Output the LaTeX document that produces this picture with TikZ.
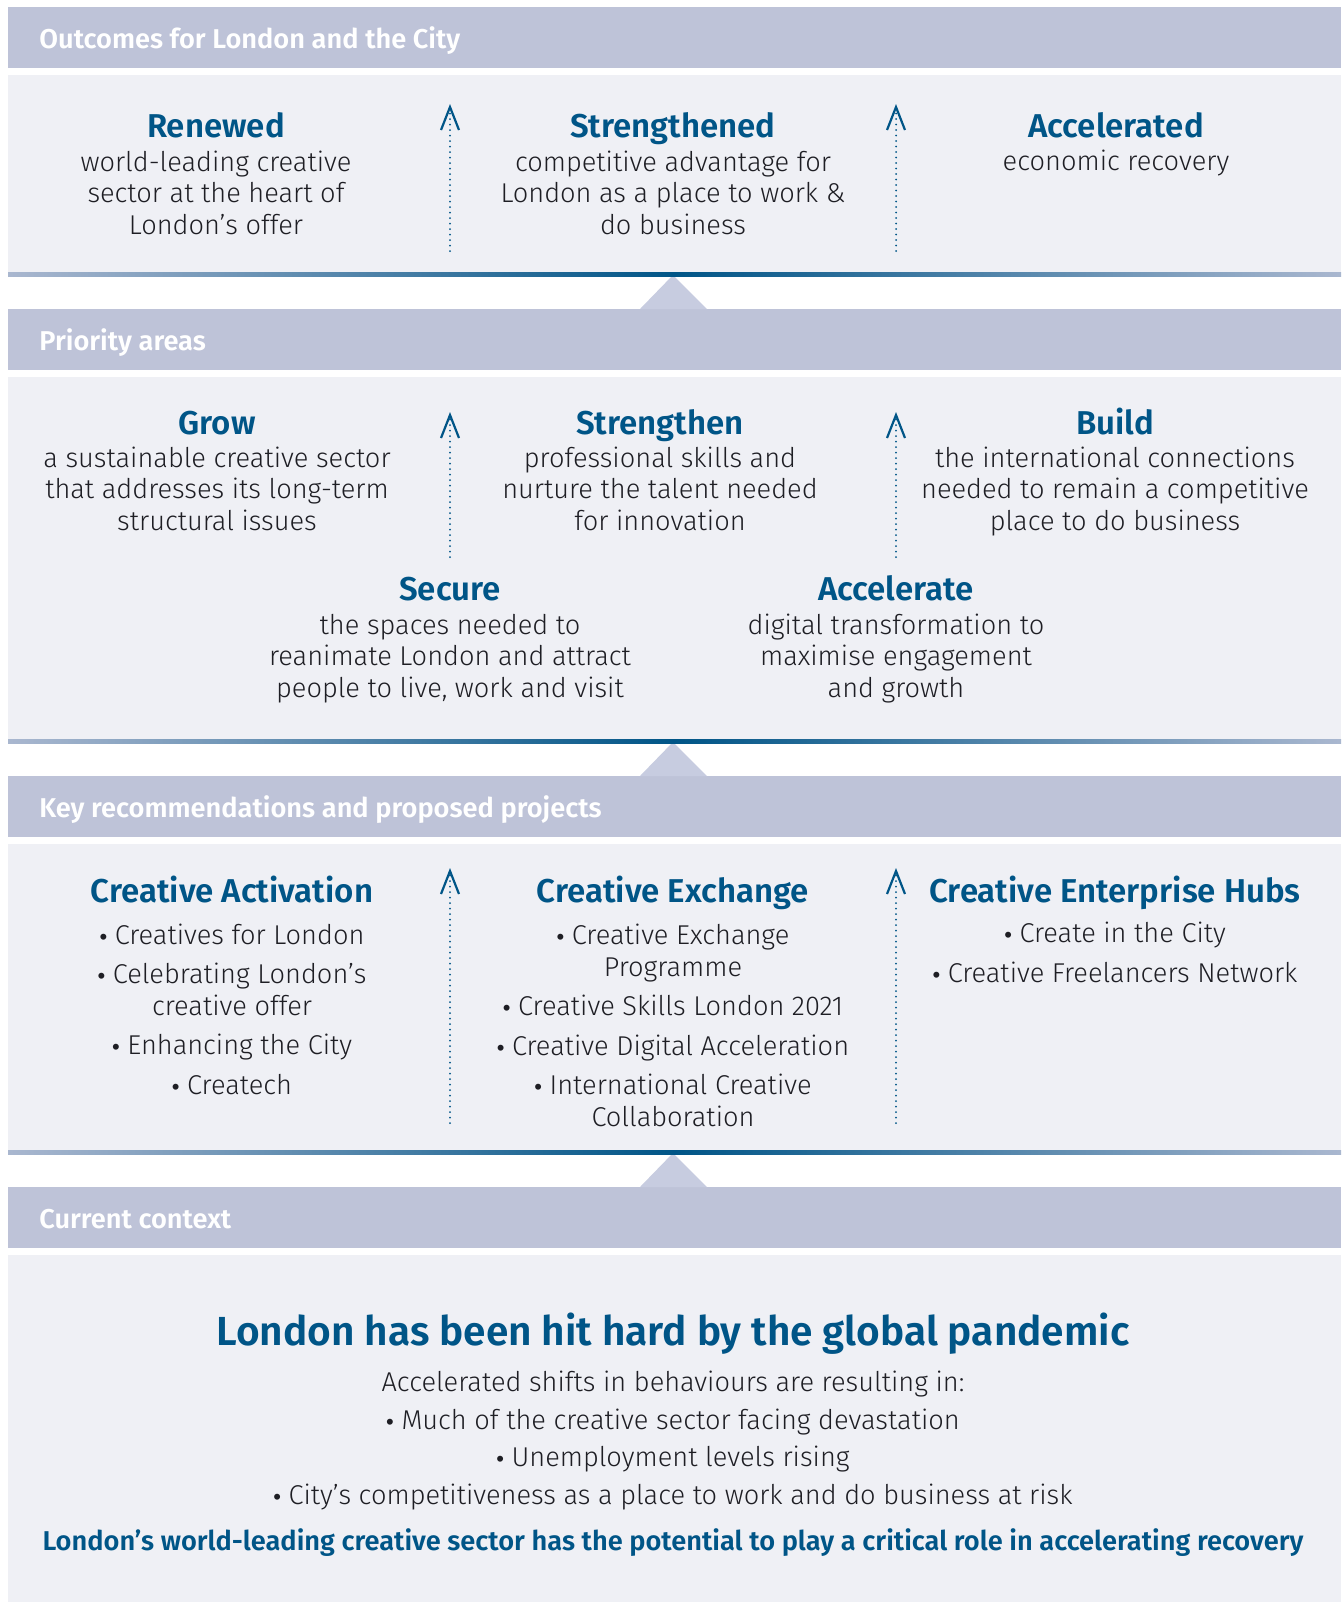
\documentclass[tikz,border=0pt]{standalone}
\usepackage{fontspec}
\setmainfont{Fira Sans}[UprightFont={* Light},BoldFont={* SemiBold}]
\newfontfamily\dotfont{Liberation Sans}
\newcommand{\itemdot}{{\dotfont\fontsize{11}{13}\selectfont•}}
\usetikzlibrary{arrows.meta}

\definecolor{barcol}{RGB}{190,195,216}
\definecolor{tricol}{RGB}{199,204,224}
\definecolor{panelbg}{RGB}{239,240,245}
\definecolor{ink}{RGB}{0,85,135}
\definecolor{txt}{RGB}{30,30,36}
\pgfdeclarehorizontalshading{sepfade}{100bp}{color(0bp)=(panelbg); color(22bp)=(barcol); color(50bp)=(ink); color(78bp)=(barcol); color(100bp)=(panelbg)}

\begin{document}
\begin{tikzpicture}[x=0.5pt,y=-0.5pt,
    bandlabel/.style={anchor=base west,inner sep=0pt,text=white,font=\bfseries\fontsize{13.6}{16}\selectfont},
    head/.style={anchor=base,inner sep=0pt,text=ink,font=\bfseries\fontsize{16.5}{19}\selectfont},
    body/.style={anchor=base,inner sep=0pt,align=center,text=txt,font=\fontsize{13.6}{15.75}\selectfont},
    uparrow/.style={-{Straight Barb[length=11.5pt,width=9pt,line width=1.1pt]},ink,line width=1pt,dash pattern=on 0pt off 2.75pt,line cap=round}]
    \useasboundingbox (0,0) rectangle (1341,1602);
    \fill[white] (0,0) rectangle (1341,1602);
    % bands and panels
    \foreach \bt/\pb in {7/272,309/739,776/1150,1187/1602}{
      \fill[barcol] (8,\bt) rectangle (1341,\bt+61);
      \fill[panelbg] (8,\bt+68) rectangle (1341,\pb);
    }
    % pointers up to the next band, with the fading rule on top
    \foreach \pb in {272,739,1150}{
      \fill[tricol] (673,\pb+3) -- (707,\pb+37) -- (640,\pb+37) -- cycle;
      \shade[shading=sepfade] (8,\pb) rectangle (1341,\pb+4);
    }
    % band titles
    \node[bandlabel] (outcomes) at (39,48) {Outcomes for London and the City};
    \node[bandlabel] (priorities) at (39,350) {Priority areas};
    \node[bandlabel] (keyrecs) at (39,817) {Key recommendations and proposed projects};
    \node[bandlabel] (context) at (39,1228) {Current context};

    % outcomes (text blocks sit on their last line)
    \node[head] (renewed) at (216,137) {Renewed};
    \node[body] (renewedtxt) at (216,234) {world-leading creative\\sector at the heart of\\London’s offer};
    \node[head] (strengthened) at (673,137) {Strengthened};
    \node[body] (strengthenedtxt) at (673,234) {competitive advantage for\\London as a place to work \&\\do business};
    \node[head] (accelerated) at (1116,137) {Accelerated};
    \node[body] (acceleratedtxt) at (1116,170) {economic recovery};

    % priority areas
    \node[head] (grow) at (217,434) {Grow};
    \node[body] (growtxt) at (217,530) {a sustainable creative sector\\that addresses its long-term\\structural issues};
    \node[head] (strengthen) at (660,434) {Strengthen};
    \node[body] (strengthentxt) at (660,530) {professional skills and\\nurture the talent needed\\for innovation};
    \node[head] (build) at (1115,434) {Build};
    \node[body] (buildtxt) at (1115,530) {the international connections\\needed to remain a competitive\\place to do business};
    \node[head] (secure) at (450,600) {Secure};
    \node[body] (securetxt) at (450,697) {the spaces needed to\\reanimate London and attract\\people to live, work and visit};
    \node[head] (accelerate) at (896,600) {Accelerate};
    \node[body] (acceleratetxt) at (896,697) {digital transformation to\\maximise engagement\\and growth};

    % recommendations and projects
    \node[head] (activation) at (232,902) {Creative Activation};
    \node[body] (activationtxt) at (232,1094) {\itemdot{} Creatives for London\\[4pt]
      \itemdot{} Celebrating London’s\\creative offer\\[4pt]
      \itemdot{} Enhancing the City\\[4pt]
      \itemdot{} Createch};
    \node[head] (exchange) at (673,902) {Creative Exchange};
    \node[body] (exchangetxt) at (673,1126) {\itemdot{} Creative Exchange\\Programme\\[4pt]
      \itemdot{} Creative Skills London 2021\\[4pt]
      \itemdot{} Creative Digital Acceleration\\[4pt]
      \itemdot{} International Creative\\Collaboration};
    \node[head] (hubs) at (1115,902) {Creative Enterprise Hubs};
    \node[body] (hubstxt) at (1115,982) {\itemdot{} Create in the City\\[4pt]
      \itemdot{} Creative Freelancers Network};

    % context
    \node[head,font=\bfseries\fontsize{20.3}{24}\selectfont] (pandemic) at (673,1345) {London has been hit hard by the global pandemic};
    \node[body,font=\fontsize{13.6}{18.75}\selectfont] (shifts) at (673,1504) {Accelerated shifts in behaviours are resulting in:\\
      \itemdot{} Much of the creative sector facing devastation\\
      \itemdot{} Unemployment levels rising\\
      \itemdot{} City’s competitiveness as a place to work and do business at risk};
    \node[head,font=\bfseries\fontsize{13.6}{16}\selectfont] (potential) at (673,1550) {London’s world-leading creative sector has the potential to play a critical role in accelerating recovery};

    % dotted arrows between the columns
    \foreach \lo/\hi [count=\r] in {251/104,557/412,1123/868}
      \foreach \ax in {450,896}{
        \coordinate (lo\r\ax) at (\ax,\lo);
        \coordinate (hi\r\ax) at (\ax,\hi);
        \draw[uparrow] (lo\r\ax) -- (hi\r\ax);
      }
\end{tikzpicture}
\end{document}
